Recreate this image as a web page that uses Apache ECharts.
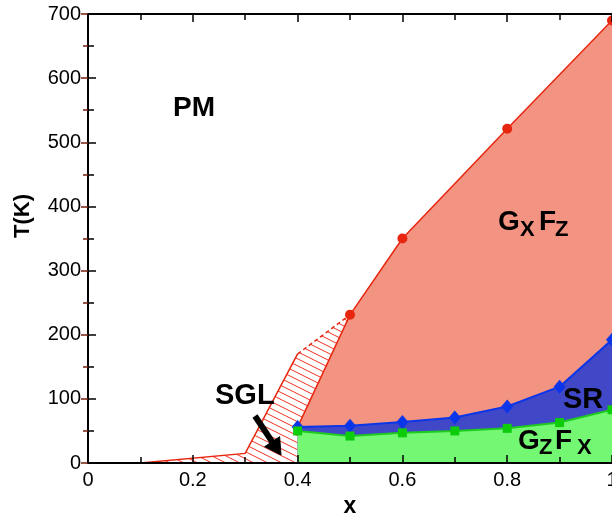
<!DOCTYPE html>
<html>
<head>
<meta charset="utf-8">
<script src="https://cdn.jsdelivr.net/npm/echarts@6/dist/echarts.min.js"></script>
<style>
html,body{margin:0;padding:0;background:#fff;}
#chart{width:612px;height:513px;}
</style>
</head>
<body>
<div id="chart"></div>
<script>
// ---- data ----
const xTickLabels = ['0', '0.2', '0.4', '0.6', '0.8', '1'];
const yTickLabels = ['0', '100', '200', '300', '400', '500', '600', '700'];
// GxFz upper boundary (red)
const gxX = [0.4, 0.5, 0.6, 0.8, 1.0];
const gxT = [56, 231, 350, 521, 690];
// SR upper boundary (blue)
const srX = [0.4, 0.5, 0.6, 0.7, 0.8, 0.9, 1.0];
const srT = [56, 58, 64, 71, 88, 119, 192];
// GzFx upper boundary (green)
const gzX = [0.4, 0.5, 0.6, 0.7, 0.8, 0.9, 1.0];
const gzT = [50, 42, 47, 50, 54, 63, 83];
// SGL hatched region outline
const sglX = [0.1, 0.3, 0.4, 0.5, 0.4, 0.4];
const sglT = [0, 15, 170, 231, 56, 0];

const FONT = 'Liberation Sans, Arial, Helvetica, sans-serif';
const RED = '#e8260f';

// hatch pattern
const pc = document.createElement('canvas');
pc.width = 14; pc.height = 7;
const pctx = pc.getContext('2d');
pctx.strokeStyle = '#ee3322';
pctx.lineWidth = 1;
for (const dy of [-7, 0, 7]) {
  pctx.beginPath();
  pctx.moveTo(-14, -7 + dy);
  pctx.lineTo(28, 14 + dy);
  pctx.stroke();
}
const hatch = { image: pc, repeat: 'repeat' };

const chart = echarts.init(document.getElementById('chart'), null, { renderer: 'canvas' });

function axisCommon(extra) {
  return Object.assign({
    axisLine: { show: true, onZero: false, lineStyle: { color: '#000', width: 2 } },
    axisTick: { show: true, inside: true, length: 8, lineStyle: { color: '#000', width: 1.5 } },
    minorTick: { show: true, splitNumber: 2, length: 6, lineStyle: { color: '#000', width: 1.5 } },
    splitLine: { show: false },
    z: 10
  }, extra);
}

const pts = (xs, ys) => xs.map((x, i) => [x, ys[i]]);

const option = {
  animation: false,
  backgroundColor: '#fff',
  grid: { left: 88, right: 0, top: 14, bottom: 50, containLabel: false, outerBoundsMode: 'none' },
  xAxis: [
    axisCommon({
      type: 'value', min: 0, max: 1, interval: 0.2, position: 'bottom',
      axisLabel: { fontSize: 20, color: '#000', fontFamily: FONT, margin: 7,
        formatter: (v) => xTickLabels[Math.round(v / 0.2)] },
      name: 'x', nameLocation: 'middle', nameGap: 26,
      nameTextStyle: { fontSize: 23, fontWeight: 'bold', color: '#000', fontFamily: FONT }
    }),
    axisCommon({
      type: 'value', min: 0, max: 1, interval: 0.2, position: 'top',
      axisLabel: { show: false }
    })
  ],
  yAxis: [
    axisCommon({
      type: 'value', min: 0, max: 700, interval: 100, position: 'left',
      axisLabel: { fontSize: 20, color: '#000', fontFamily: FONT, margin: 7,
        formatter: (v) => yTickLabels[Math.round(v / 100)] }
    }),
    axisCommon({
      type: 'value', min: 0, max: 700, interval: 100, position: 'right',
      axisLine: { show: true, lineStyle: { color: '#000', width: 2 } },
      axisTick: { show: true, inside: true, length: 7, lineStyle: { color: '#7a1e10', width: 1.5 } },
      minorTick: { show: true, splitNumber: 2, length: 5, lineStyle: { color: '#7a1e10', width: 1.5 } },
      axisLabel: { show: false }
    })
  ],
  series: [
    {
      type: 'custom',
      z: 1,
      silent: true,
      data: [[0.3, 50]],
      renderItem: function (params, api) {
        const p = sglX.map((x, i) => api.coord([x, sglT[i]]));
        return {
          type: 'group',
          children: [
            { type: 'polygon', shape: { points: p }, style: { fill: hatch, stroke: null } },
            { type: 'polyline', shape: { points: p.slice(0, 3) }, style: { stroke: RED, lineWidth: 1.5, fill: null } },
            { type: 'polyline', shape: { points: [p[2], p[3]] }, style: { stroke: RED, lineWidth: 1.5, lineDash: [4, 3], fill: null } }
          ]
        };
      }
    },
    {
      name: 'GxFz', type: 'line', z: 2,
      data: pts(gxX, gxT).map((v, i) => i === 0 ? { value: v, symbol: 'none' } : v),
      symbol: 'circle', symbolSize: 10,
      itemStyle: { color: RED },
      lineStyle: { color: RED, width: 1.5 },
      areaStyle: { color: '#f39382', opacity: 1, origin: 'start' }
    },
    {
      name: 'SR', type: 'line', z: 3,
      data: pts(srX, srT),
      symbol: 'diamond', symbolSize: [12, 14],
      itemStyle: { color: '#0b35e8' },
      lineStyle: { color: '#0b35e8', width: 2 },
      areaStyle: { color: '#4048c8', opacity: 1, origin: 'start' }
    },
    {
      name: 'GzFx', type: 'line', z: 4,
      data: pts(gzX, gzT),
      symbol: 'rect', symbolSize: 9,
      itemStyle: { color: '#0ccc0c' },
      lineStyle: { color: '#1ecb1e', width: 2 },
      areaStyle: { color: '#74f874', opacity: 1, origin: 'start' }
    }
  ],
  graphic: []
};

function txt(text, x, y, size, extra) {
  return Object.assign({
    type: 'text', x: x, y: y, z: 100,
    style: { text: text, font: 'bold ' + size + 'px ' + FONT, fill: '#000',
      textAlign: 'left', textVerticalAlign: 'middle' }
  }, extra || {});
}

// arrow
const tip = [281, 455], tail = [255, 416];
const dx = tip[0] - tail[0], dy = tip[1] - tail[1];
const L = Math.hypot(dx, dy), ux = dx / L, uy = dy / L, px = -uy, py = ux;
const hl = 16, hw = 9;
const a1 = [tip[0] - hl * ux + hw * px, tip[1] - hl * uy + hw * py];
const a2 = [tip[0] - hl * ux - hw * px, tip[1] - hl * uy - hw * py];

option.graphic = [
  txt('PM', 173, 108, 28),
  txt('SGL', 215, 396, 29),
  txt('SR', 563, 400, 29),
  // GxFz
  txt('G', 498, 222, 28), txt('X', 520, 230, 22), txt('F', 539, 222, 28), txt('Z', 555, 230, 22),
  // GzFx
  txt('G', 518, 441, 28), txt('Z', 539, 448, 22), txt('F', 555, 441, 28), txt('X', 577, 448, 22),
  {
    type: 'text', x: 23, y: 216, rotation: Math.PI / 2, z: 100,
    style: { text: 'T(K)', font: 'bold 22px ' + FONT, fill: '#000', textAlign: 'center', textVerticalAlign: 'middle' }
  },
  { type: 'polyline', z: 100, shape: { points: [tail, [tip[0] - 8 * ux, tip[1] - 8 * uy]] }, style: { stroke: '#000', lineWidth: 6, fill: null } },
  { type: 'polygon', z: 100, shape: { points: [tip, a1, a2] }, style: { fill: '#000', stroke: '#000', lineWidth: 1 } }
];

chart.setOption(option);
</script>
</body>
</html>
